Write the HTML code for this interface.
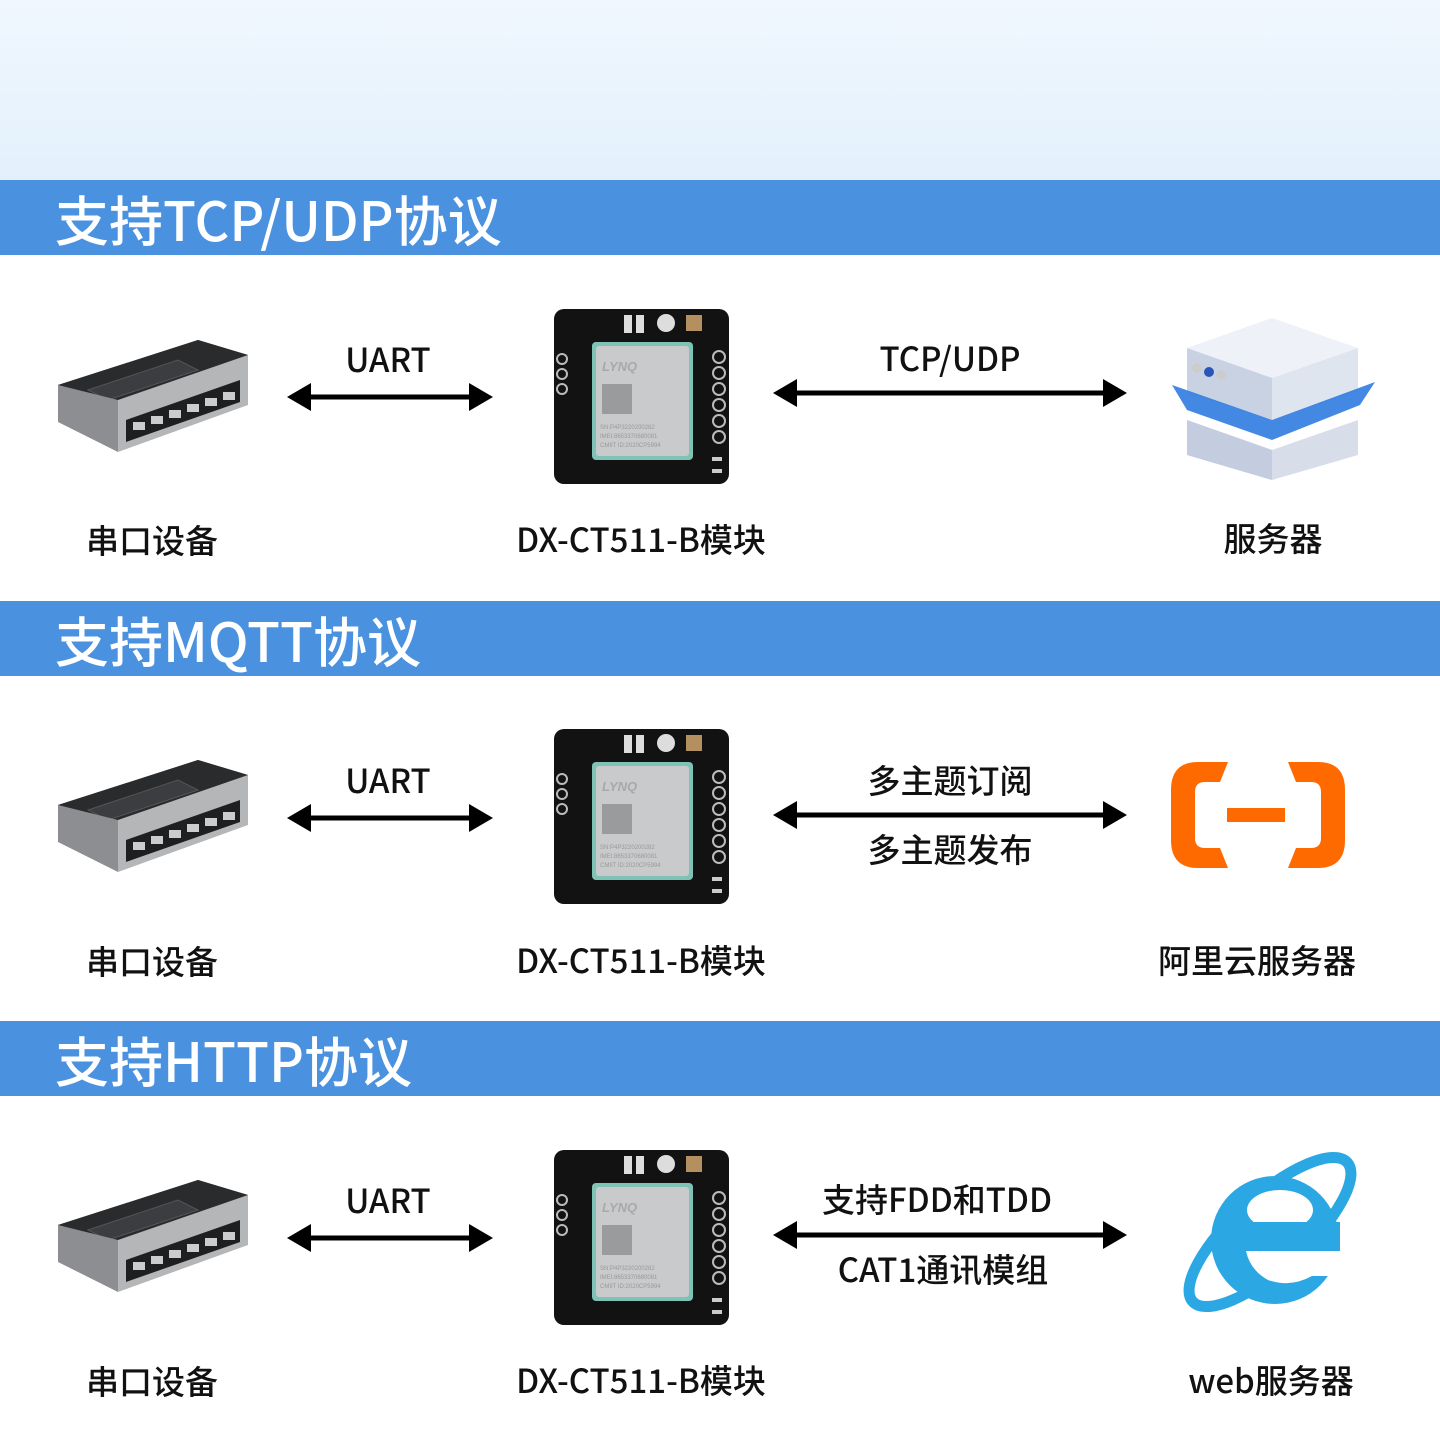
<!DOCTYPE html>
<html><head><meta charset="utf-8"><style>
*{margin:0;padding:0;box-sizing:border-box}
body{width:1440px;height:1440px;position:relative;background:#fff;overflow:hidden;font-family:"Liberation Sans","Noto Sans CJK SC",sans-serif;color:#111}
.top{position:absolute;left:0;top:0;width:1440px;height:180px;background:linear-gradient(#f0f7fe,#e3f0fc)}
.band{position:absolute;left:0;width:1440px;height:75px;background:#4a92df;color:#fff;font-size:54px;font-weight:500;line-height:75px;padding-left:55px;font-family:"Noto Sans CJK SC","WenQuanYi Zen Hei",sans-serif}
.t{position:absolute;font-size:33px;font-weight:500;text-align:center;transform:translate(-50%,-50%);white-space:nowrap;font-family:"Noto Sans CJK SC",sans-serif}
.a{position:absolute}
</style></head><body>
<div class="top"></div>

<svg width="0" height="0" style="position:absolute">
<defs>
<g id="sw">
<polygon points="0,45 140,0 190,15 190,60 60,110 0,80" fill="#3a3b3e"/>
<polygon points="0,45 140,0 190,15 60,60" fill="#2a2b2d"/>
<polygon points="30,50 120,20 140,30 50,60" fill="#3c3d40" stroke="#555" stroke-width="1"/>
<polygon points="60,60 190,15 190,65 60,112" fill="#b4b6b8"/>
<polygon points="68,80 182,40 182,62 68,102" fill="#1e1f21"/>
<polygon points="0,45 60,60 60,112 0,82" fill="#8c8e91"/>
<g fill="#ccc"><rect x="75" y="82" width="12" height="8"/><rect x="93" y="76" width="12" height="8"/><rect x="111" y="70" width="12" height="8"/><rect x="129" y="64" width="12" height="8"/><rect x="147" y="58" width="12" height="8"/><rect x="165" y="52" width="12" height="8"/></g>
</g>
<g id="mod">
<rect x="0" y="0" width="175" height="175" rx="10" fill="#121212"/>
<rect x="38" y="33" width="101" height="118" rx="4" fill="#7fc3b6"/>
<rect x="42" y="37" width="93" height="110" rx="3" fill="#c9cacb"/>
<text x="48" y="62" font-size="13" font-style="italic" font-weight="bold" fill="#a8a9aa" font-family="Liberation Sans">LYNQ</text>
<rect x="48" y="75" width="30" height="30" fill="#9a9b9c"/>
<g fill="#999" font-size="6" font-family="Liberation Sans"><text x="46" y="120">SN:P4P3220200282</text><text x="46" y="129">IMEI:8653370680081</text><text x="46" y="138">CMIIT ID:2020CP5994</text></g>
<g fill="#ddd"><rect x="70" y="6" width="8" height="18"/><rect x="82" y="6" width="8" height="18"/><rect x="132" y="6" width="16" height="16" fill="#b49060"/></g>
<circle cx="112" cy="14" r="9" fill="#ddd"/>
<g fill="none" stroke="#bbb" stroke-width="2"><circle cx="8" cy="50" r="5"/><circle cx="8" cy="65" r="5"/><circle cx="8" cy="80" r="5"/><circle cx="165" cy="48" r="6"/><circle cx="165" cy="64" r="6"/><circle cx="165" cy="80" r="6"/><circle cx="165" cy="96" r="6"/><circle cx="165" cy="112" r="6"/><circle cx="165" cy="128" r="6"/></g>
<rect x="158" y="148" width="10" height="4" fill="#ccc"/><rect x="158" y="160" width="10" height="4" fill="#ccc"/>
</g>
<g id="arr"><rect x="20" y="-2.5" width="166" height="5" fill="#000"/><polygon points="0,0 24,-14 24,14" fill="#000"/><polygon points="206,0 182,-14 182,14" fill="#000"/></g>
<g id="arr2"><rect x="20" y="-2.5" width="314" height="5" fill="#000"/><polygon points="0,0 24,-14 24,14" fill="#000"/><polygon points="354,0 330,-14 330,14" fill="#000"/></g>
</defs></svg>

<svg class="a" style="left:0;top:0" width="1440" height="1440">
<use href="#sw" x="58" y="340"/><use href="#sw" x="58" y="760"/><use href="#sw" x="58" y="1180"/>
<use href="#mod" x="554" y="309"/><use href="#mod" x="554" y="729"/><use href="#mod" x="554" y="1150"/>
<use href="#arr" x="287" y="397"/><use href="#arr" x="287" y="818"/><use href="#arr" x="287" y="1238"/>
<use href="#arr2" x="773" y="393"/><use href="#arr2" x="773" y="815"/><use href="#arr2" x="773" y="1235"/>
<!-- server -->
<polygon points="1187,348 1272,318 1358,348 1272,378" fill="#eef1f7"/>
<polygon points="1187,348 1272,378 1272,420 1187,392" fill="#c9d2e2"/>
<polygon points="1272,378 1358,348 1358,392 1272,420" fill="#dfe5ef"/>
<polygon points="1172,385 1272,420 1375,382 1360,405 1272,440 1187,410" fill="#2f7be0" opacity="0.9"/>
<polygon points="1187,420 1272,450 1358,420 1358,455 1272,480 1187,455" fill="#d7deea"/>
<polygon points="1187,420 1272,450 1272,480 1187,455" fill="#c4cde0"/>
<circle cx="1197" cy="368" r="5" fill="#ccc"/><circle cx="1209" cy="372" r="5" fill="#2857b8"/><circle cx="1221" cy="375" r="5" fill="#ccc"/>
<!-- aliyun -->
<g fill="#ff6a00">
<path d="M1228,762 H1198 Q1171,762 1171,790 V840 Q1171,868 1198,868 H1228 L1220,848 H1205 Q1195,848 1195,838 V792 Q1195,782 1205,782 H1220 Z"/>
<path d="M1288,762 H1318 Q1345,762 1345,790 V840 Q1345,868 1318,868 H1288 L1296,848 H1311 Q1321,848 1321,838 V792 Q1321,782 1311,782 H1296 Z"/>
<rect x="1227" y="808" width="58" height="14"/>
</g>
<!-- IE -->
<ellipse cx="1270" cy="1232" rx="104" ry="36" transform="rotate(-42 1270 1232)" fill="none" stroke="#2ba8e3" stroke-width="11"/>
<circle cx="1275" cy="1240" r="64" fill="#2ba8e3"/>
<ellipse cx="1280" cy="1210" rx="33" ry="20" fill="#fff"/>
<rect x="1240" y="1222" width="100" height="29" fill="#2ba8e3"/>
<path d="M1246,1251 H1345 V1276 H1312 Q1290,1288 1268,1280 Q1250,1270 1246,1251 Z" fill="#fff"/>
</svg>

<div class="band" style="top:180px">支持TCP/UDP协议</div>
<div class="band" style="top:601px">支持MQTT协议</div>
<div class="band" style="top:1021px">支持HTTP协议</div>

<div class="t" style="left:388px;top:358px">UART</div>
<div class="t" style="left:950px;top:357px">TCP/UDP</div>
<div class="t" style="left:152px;top:539px">串口设备</div>
<div class="t" style="left:641px;top:538px">DX-CT511-B模块</div>
<div class="t" style="left:1273px;top:537px">服务器</div>

<div class="t" style="left:388px;top:779px">UART</div>
<div class="t" style="left:950px;top:779px">多主题订阅</div>
<div class="t" style="left:950px;top:848px">多主题发布</div>
<div class="t" style="left:152px;top:960px">串口设备</div>
<div class="t" style="left:641px;top:959px">DX-CT511-B模块</div>
<div class="t" style="left:1257px;top:959px">阿里云服务器</div>

<div class="t" style="left:388px;top:1199px">UART</div>
<div class="t" style="left:937px;top:1198px">支持FDD和TDD</div>
<div class="t" style="left:943px;top:1268px">CAT1通讯模组</div>
<div class="t" style="left:152px;top:1380px">串口设备</div>
<div class="t" style="left:641px;top:1379px">DX-CT511-B模块</div>
<div class="t" style="left:1271px;top:1379px">web服务器</div>
</body></html>
